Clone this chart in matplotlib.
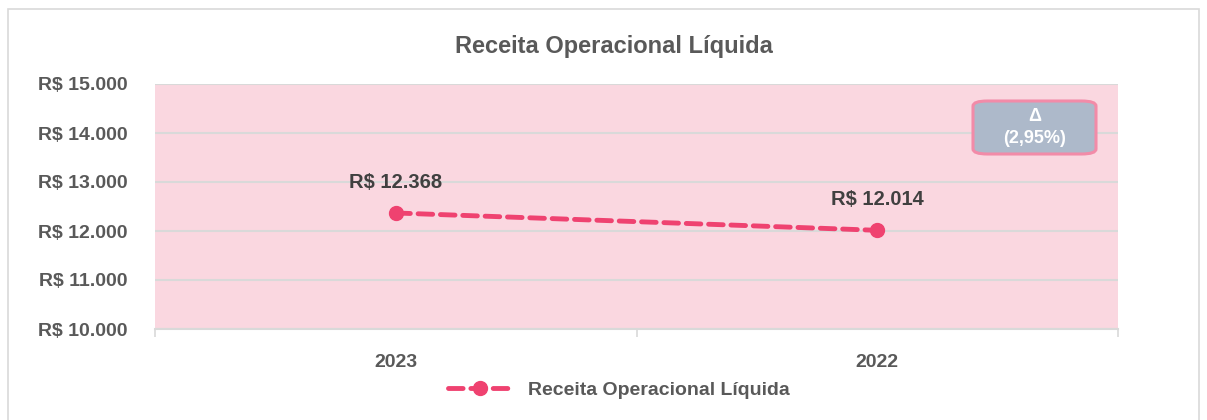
import matplotlib
matplotlib.use("Agg")
import matplotlib.pyplot as plt
from matplotlib.patches import Rectangle, FancyBboxPatch
from matplotlib.ticker import FuncFormatter
from matplotlib.lines import Line2D

categories = ["2023", "2022"]
values = [12368, 12014]
value_labels = ["R$ 12.368", "R$ 12.014"]
series_name = "Receita Operacional Líquida"
title = "Receita Operacional Líquida"
delta_text = "Δ\n(2,95%)"
y_ticks = [10000, 11000, 12000, 13000, 14000, 15000]

FONT = ["Liberation Sans", "DejaVu Sans"]
plt.rcParams['font.family'] = FONT

W, H = 1207, 420
fig = plt.figure(figsize=(W / 100, H / 100), dpi=100)
fig.patch.set_facecolor("white")

# outer border
fig.patches.append(Rectangle((8 / W, -0.05), (1199 - 8) / W, 1 - 9 / H + 0.05,
                             transform=fig.transFigure, fill=False,
                             edgecolor="#D9D9D9", linewidth=1.2))

left, right, top, bottom = 155, 1118, 84, 329
ax = fig.add_axes([left / W, 1 - bottom / H, (right - left) / W, (bottom - top) / H])
ax.set_facecolor("#FAD7E0")

x = list(range(len(categories)))
line_color = "#EF4270"
ax.plot(x, values, color=line_color, linewidth=3.5, linestyle=(0, (3, 1.6)),
        marker="o", markersize=10, dash_capstyle="round", zorder=3)

for xi, v, lab in zip(x, values, value_labels):
    ax.annotate(lab, (xi, v), xytext=(0, 15), textcoords="offset points",
                ha="center", va="bottom", fontsize=14.5, fontweight="bold",
                color="#404040")

ax.set_xlim(-0.5, len(categories) - 0.5)
ax.set_ylim(10000, 15000)
ax.set_yticks(y_ticks)
ax.yaxis.set_major_formatter(FuncFormatter(lambda v, p: "R$ " + f"{int(v):,}".replace(",", ".")))
ax.set_xticks(x)
ax.set_xticklabels(categories)
ax.set_xticks([-0.5, 0.5, 1.5], minor=True)
ax.tick_params(axis="x", which="major", length=0, pad=18, labelsize=14, labelcolor="#595959")
ax.tick_params(axis="x", which="minor", length=6, color="#D9D9D9", width=1.2)
ax.tick_params(axis="y", length=0, pad=19.5, labelsize=14, labelcolor="#595959")
for t in ax.get_xticklabels() + ax.get_yticklabels():
    t.set_fontweight("bold")

ax.grid(axis="y", color="#D9D9D9", linewidth=1.5)
ax.set_axisbelow(True)
for s in ["top", "right", "left"]:
    ax.spines[s].set_visible(False)
ax.spines["bottom"].set_color("#D9D9D9")
ax.spines["bottom"].set_linewidth(1.5)

fig.text(614 / W, 1 - 47 / H, title, ha="center", va="center",
         fontsize=17, fontweight="bold", color="#595959")

# delta box
bx0, by0, bx1, by1 = 973, 101, 1096, 154
box = FancyBboxPatch((bx0 / W, 1 - by1 / H), (bx1 - bx0) / W, (by1 - by0) / H,
                     boxstyle="round,pad=0,rounding_size=0.012",
                     transform=fig.transFigure, facecolor="#ADB9CA",
                     edgecolor="#F28BA8", linewidth=2.2, zorder=5)
fig.patches.append(box)
fig.text((bx0 + bx1) / 2 / W, 1 - (by0 + by1) / 2 / H, delta_text, ha="center", va="center",
         fontsize=13, fontweight="bold", color="white", linespacing=1.35, zorder=6)

handle = Line2D([], [], color=line_color, linewidth=3.5, linestyle=(0, (3, 1.6)),
                marker="o", markersize=10, dash_capstyle="round")
fig.legend([handle], [series_name], loc="center", bbox_to_anchor=(619 / W, 1 - 390 / H),
           frameon=False, prop={"size": 14, "weight": "bold"}, labelcolor="#595959",
           handlelength=3.3, handletextpad=0.8)

fig.savefig("out.png", dpi=100, facecolor="white")
